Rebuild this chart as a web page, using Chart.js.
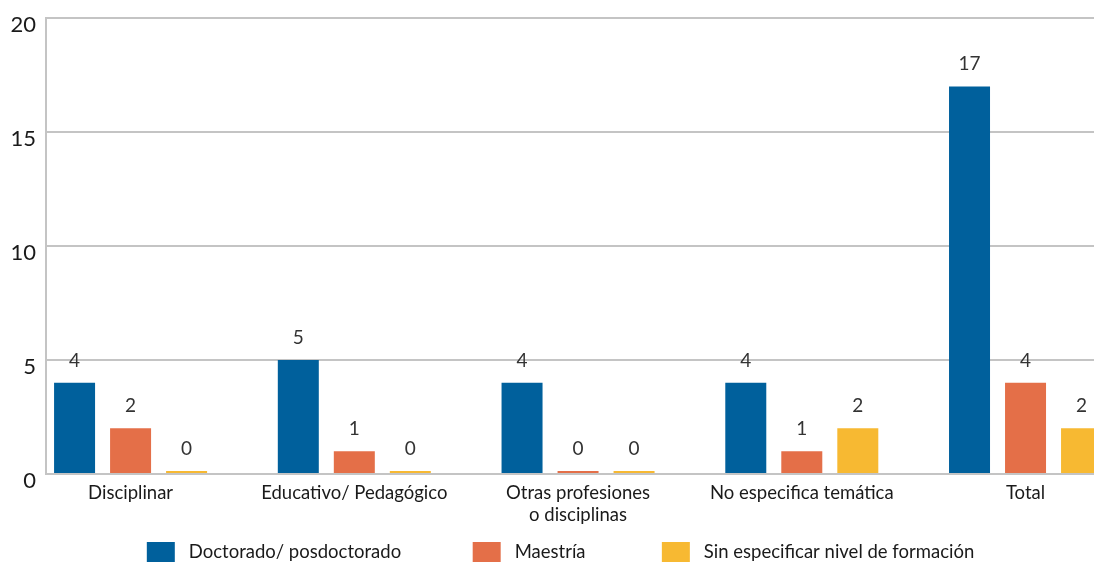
<!DOCTYPE html>
<html lang="es">
<head>
<meta charset="utf-8">
<script src="https://cdn.jsdelivr.net/npm/chart.js@4.4.1/dist/chart.umd.min.js"></script>
<style>
  html, body { margin: 0; padding: 0; background: #fff; overflow: hidden; }
  #clip { width: 1094px; height: 563px; overflow: hidden; }
  #wrap { width: 1094px; height: 572px; position: relative; }
</style>
</head>
<body>
<div id="clip"><div id="wrap"><canvas id="chart"></canvas></div></div>
<script>
const categories = ['Disciplinar', 'Educativo/ Pedagógico', ['Otras profesiones', 'o disciplinas'], 'No especifica temática', 'Total'];
const doctorado = [4, 5, 4, 4, 17];
const maestria = [2, 1, 0, 1, 4];
const sinEspecificar = [0, 0, 0, 2, 2];
const yTicks = [0, 5, 10, 15, 20];
const seriesNames = ['Doctorado/ posdoctorado', 'Maestría', 'Sin especificar nivel de formación'];
const seriesColors = ['#00609c', '#e46f48', '#f7b932'];

const FONT = 'Lato';
const TEXT = '#1a1a1a';
const GRID = '#c4c4c4';
// spaces after each legend entry, to spread the legend like the original
const legendTail = [13, 14, 4];

function toPoints(values) {
  return values.map((v, i) => ({ x: i, y: v }));
}

// numbers above each bar
const valueLabels = {
  id: 'valueLabels',
  afterDatasetsDraw(chart) {
    const ctx = chart.ctx;
    ctx.save();
    ctx.font = '19px ' + FONT;
    ctx.fillStyle = '#333';
    ctx.textAlign = 'center';
    ctx.textBaseline = 'alphabetic';
    chart.data.datasets.forEach((ds, i) => {
      chart.getDatasetMeta(i).data.forEach((bar, j) => {
        ctx.fillText(ds.data[j].y, bar.x, bar.y - 16);
      });
    });
    ctx.restore();
  }
};

const ctx = document.getElementById('chart').getContext('2d');
const chart = new Chart(ctx, {
  type: 'bar',
  data: {
    datasets: [doctorado, maestria, sinEspecificar].map((vals, i) => ({
      label: seriesNames[i],
      data: toPoints(vals),
      backgroundColor: seriesColors[i],
      categoryPercentage: 0.751,
      barPercentage: 0.732,
      minBarLength: 3
    }))
  },
  options: {
    responsive: true,
    maintainAspectRatio: false,
    animation: false,
    layout: { padding: { top: 18, right: 0, left: 0, bottom: 0 } },
    scales: {
      x: {
        type: 'linear',
        min: -0.378,
        max: 4.306,
        offset: false,
        grid: { display: false, drawTicks: false },
        border: { color: GRID, width: 2 },
        afterBuildTicks: s => { s.ticks = categories.map((c, i) => ({ value: i })); },
        afterFit: s => { s.height -= 2; },
        ticks: {
          autoSkip: false,
          maxRotation: 0,
          padding: 8,
          color: TEXT,
          font: { family: FONT, size: 18.5, lineHeight: 1.19 },
          callback: v => categories[v]
        }
      },
      y: {
        min: 0,
        max: 20,
        afterBuildTicks: s => { s.ticks = yTicks.map(v => ({ value: v })); },
        afterFit: s => {
          s.width = 46;
          s.paddingTop = 0;
          s.paddingBottom = 0;
        },
        grid: { color: GRID, lineWidth: 2, drawTicks: false },
        border: { color: GRID, width: 2 },
        ticks: {
          padding: 10,
          labelOffset: 7,
          color: TEXT,
          font: { family: FONT, size: 22 }
        }
      }
    },
    plugins: {
      tooltip: { enabled: false },
      legend: {
        position: 'bottom',
        fullSize: false,
        labels: {
          boxWidth: 28,
          boxHeight: 20,
          padding: 10,
          color: TEXT,
          font: { family: FONT, size: 18.5 },
          generateLabels: c => {
            const items = Chart.defaults.plugins.legend.labels.generateLabels(c);
            items.forEach((it, i) => {
              it.text = ' ' + it.text + ' '.repeat(legendTail[i]);
              it.lineWidth = 0;
            });
            return items;
          }
        }
      }
    }
  },
  plugins: [valueLabels]
});
</script>
</body>
</html>
